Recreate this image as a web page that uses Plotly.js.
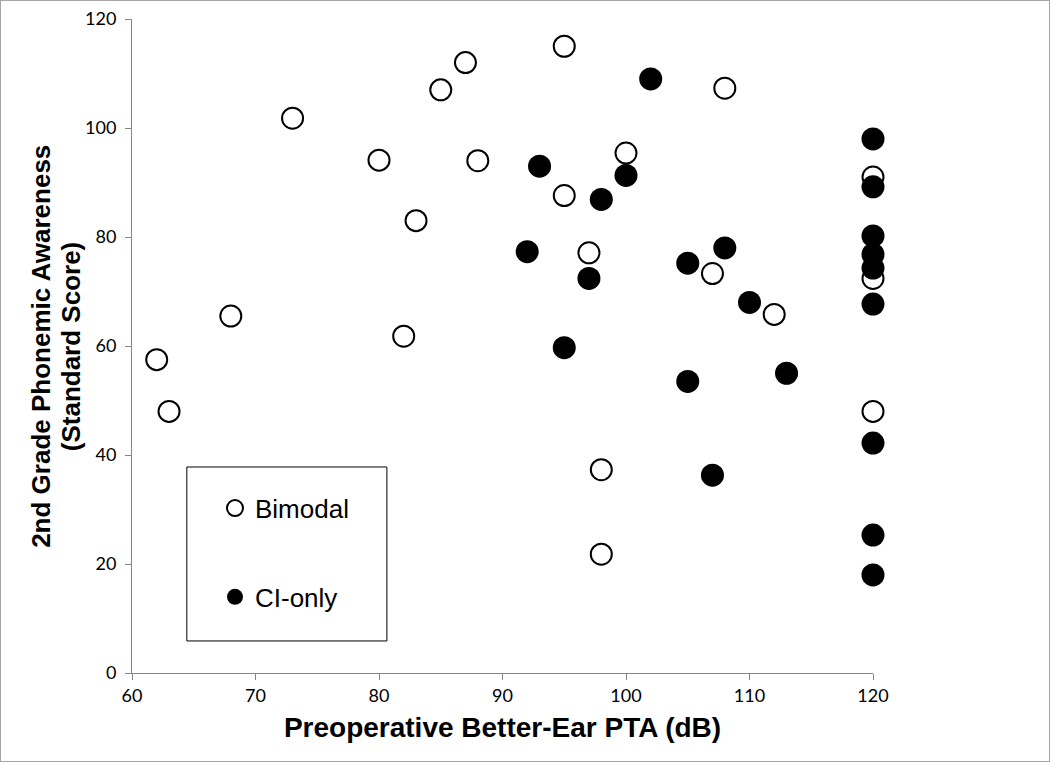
<!DOCTYPE html>
<html>
<head>
<meta charset="utf-8">
<script src="https://cdn.plot.ly/plotly-3.0.1.min.js"></script>
<style>
  body { margin: 0; background: #fff; }
  #chart { width: 1048px; height: 760px; border: 1px solid #a6a6a6; }
</style>
</head>
<body>
<div id="chart"></div>
<script>
// Preoperative better-ear PTA (dB) vs 2nd grade phonemic awareness score
const bimodalPta = [62, 63, 68, 73, 80, 82, 83, 85, 87, 88, 95, 95, 97, 98, 98, 100, 107, 108, 112, 120, 120, 120];
const bimodalScore = [57.5, 48, 65.5, 101.8, 94.1, 61.8, 83, 107, 112, 94, 115, 87.6, 77.1, 37.3, 21.8, 95.4, 73.3, 107.3, 65.8, 91, 72.4, 48];

const ciPta = [92, 93, 95, 97, 98, 100, 102, 105, 105, 107, 108, 110, 113, 120, 120, 120, 120, 120, 120, 120, 120, 120];
const ciScore = [77.3, 93, 59.7, 72.4, 86.9, 91.3, 109, 75.2, 53.5, 36.3, 78, 68, 55, 98, 89.2, 80.2, 76.8, 74.3, 67.7, 42.2, 25.3, 18];

const xTicks = [60, 70, 80, 90, 100, 110, 120];
const yTicks = [0, 20, 40, 60, 80, 100, 120];
const yTitleLines = ['2nd Grade Phonemic Awareness', '(Standard Score)'];

const axisGray = '#868686';
const tickFont = { family: 'Lato, "Open Sans", sans-serif', size: 18, color: '#000' };
const titleFont = { family: '"Liberation Sans", Arial, sans-serif', size: 28, color: '#000', weight: 'bold' };
const yTitleFont = { family: '"Liberation Sans", Arial, sans-serif', size: 26, color: '#000', weight: 'bold' };

const traces = [
    {
        x: bimodalPta,
        y: bimodalScore,
        type: 'scatter',
        mode: 'markers',
        name: 'Bimodal',
        legendgroup: 'a',
        marker: { symbol: 'circle-open', size: 21, color: '#000', line: { width: 2, color: '#000' } },
        cliponaxis: false
    },
    {
        x: ciPta,
        y: ciScore,
        type: 'scatter',
        mode: 'markers',
        name: 'CI-only',
        legendgroup: 'b',
        marker: { symbol: 'circle', size: 23, color: '#000' },
        cliponaxis: false
    }
];

// two-line y title drawn as rotated annotations so the line gap can be set
const yTitleX = [-0.123, -0.082];
const annotations = yTitleLines.map((txt, i) => ({
    text: txt,
    xref: 'paper', yref: 'paper',
    x: yTitleX[i], y: 0.5,
    xanchor: 'center', yanchor: 'middle',
    textangle: -90,
    showarrow: false,
    font: yTitleFont
}));

const layout = {
    width: 1048,
    height: 760,
    margin: { l: 131, r: 176, t: 18, b: 88 },
    paper_bgcolor: '#fff',
    plot_bgcolor: '#fff',
    showlegend: true,
    legend: {
        x: 0.112, y: 0.288, xanchor: 'left', yanchor: 'top',
        borderwidth: 0,
        bgcolor: 'rgba(0,0,0,0)',
        font: { family: '"Liberation Sans", Arial, sans-serif', size: 26, color: '#000' },
        tracegroupgap: 52
    },
    shapes: [{
        type: 'rect', xref: 'paper', yref: 'paper',
        x0: 0.074, x1: 0.344, y0: 0.049, y1: 0.315,
        line: { color: '#000', width: 1 },
        fillcolor: 'rgba(0,0,0,0)',
        layer: 'below'
    }],
    annotations: annotations,
    xaxis: {
        range: [60, 120],
        tickvals: xTicks,
        ticktext: xTicks.map(String),
        showgrid: false,
        zeroline: false,
        showline: true,
        linecolor: axisGray,
        linewidth: 1,
        ticks: 'outside',
        ticklen: 6,
        tickcolor: axisGray,
        tickfont: tickFont,
        title: { text: 'Preoperative Better-Ear PTA (dB)', font: titleFont, standoff: 12 }
    },
    yaxis: {
        range: [0, 120],
        tickvals: yTicks,
        ticktext: yTicks.map(String),
        showgrid: false,
        zeroline: false,
        showline: true,
        linecolor: axisGray,
        linewidth: 1,
        ticks: 'outside',
        ticklen: 6,
        tickcolor: axisGray,
        tickfont: tickFont,
        ticklabelstandoff: 5
    }
};

Plotly.newPlot('chart', traces, layout, { displayModeBar: false, staticPlot: true });
</script>
</body>
</html>
